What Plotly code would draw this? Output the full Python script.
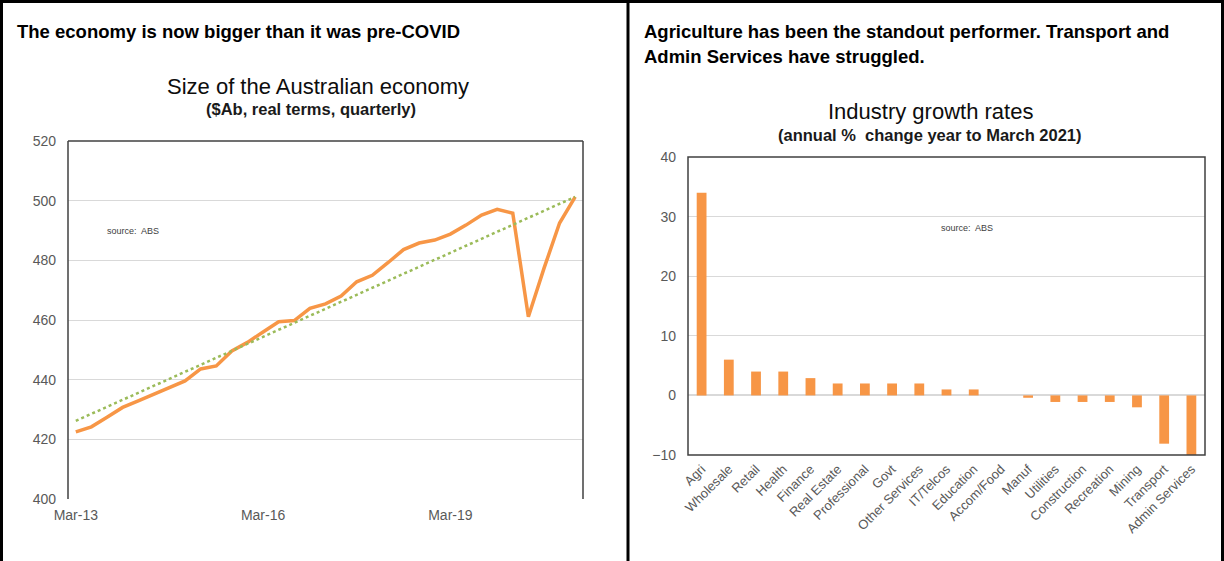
import plotly.graph_objects as go

W, H = 1224, 561

# ---------------- data ----------------
months = ["Mar", "Jun", "Sep", "Dec"]
quarters = [f"{m}-{y:02d}" for y in range(13, 22) for m in months][:33]
gdp = [422.5, 424.2, 427.4, 430.7, 432.9, 435.2, 437.4, 439.6, 443.6, 444.6,
       449.6, 452.5, 456.0, 459.4, 459.8, 463.9, 465.4, 468.0, 472.8, 475.0,
       479.2, 483.6, 485.8, 486.8, 488.8, 491.8, 495.2, 497.1, 495.8, 461.1,
       477.3, 492.5, 501.3]
trend_ends = [426.2, 501.3]
left_ticks = ["Mar-13", "Mar-16", "Mar-19"]

industries = ["Agri", "Wholesale", "Retail", "Health", "Finance", "Real Estate",
              "Professional", "Govt", "Other Services", "IT/Telcos", "Education",
              "Accom/Food", "Manuf", "Utilities", "Construction", "Recreation",
              "Mining", "Transport", "Admin Services"]
growth = [34, 6, 4, 4, 2.9, 2, 2, 2, 2, 1, 1, 0, -0.4, -1.1, -1.1, -1.1, -2, -8.1, -10]

ORANGE = "#F79646"
GREEN = "#9BBB59"
GRID = "#D9D9D9"
TICK = "#595959"
FRAME = "#404040"
FONT = "Liberation Sans, Arial, sans-serif"

def px(x):
    return x / W

def py(y):
    return 1 - y / H

fig = go.Figure()

fig.add_trace(go.Scatter(x=quarters, y=gdp, mode="lines",
                         line=dict(color=ORANGE, width=3.5),
                         xaxis="x", yaxis="y", showlegend=False))
fig.add_trace(go.Scatter(x=[quarters[0], quarters[-1]], y=trend_ends, mode="lines",
                         line=dict(color=GREEN, width=2.5, dash="dot"),
                         xaxis="x", yaxis="y", showlegend=False))
fig.add_trace(go.Bar(x=industries, y=growth, marker=dict(color=ORANGE, line=dict(width=0)),
                     width=0.36, xaxis="x2", yaxis="y2", showlegend=False))

tickfont = dict(family=FONT, size=14, color=TICK)

fig.update_layout(
    template="none",
    width=W, height=H, autosize=False,
    margin=dict(l=0, r=0, t=0, b=0, pad=0),
    paper_bgcolor="white", plot_bgcolor="white",
    font=dict(family=FONT),
    xaxis=dict(domain=[px(68), px(583)], type="category", categoryorder="array",
               categoryarray=quarters, range=[-0.5, 32.5], automargin=False,
               tickmode="array", tickvals=left_ticks, ticktext=left_ticks,
               showgrid=False, showline=False, zeroline=False, ticks="",
               tickfont=tickfont, ticklabelstandoff=6, anchor="y"),
    yaxis=dict(domain=[py(499), py(141)], range=[400, 520], dtick=20, tick0=400,
               automargin=False,
               showgrid=True, gridcolor=GRID, gridwidth=1, zeroline=False,
               showline=False, ticks="", tickfont=tickfont, ticklabelstandoff=11,
               anchor="x"),
    xaxis2=dict(domain=[px(688), px(1205)], type="category", range=[-0.5, 18.5],
                automargin=False,
                showgrid=False, showline=False, zeroline=False, ticks="",
                tickangle=-45, tickfont=dict(family=FONT, size=13, color=TICK),
                ticklabelstandoff=3, anchor="y2"),
    yaxis2=dict(domain=[py(455), py(157)], range=[-10, 40], dtick=10,
                automargin=False,
                showgrid=True, gridcolor=GRID, gridwidth=1, zeroline=True,
                zerolinecolor=GRID, zerolinewidth=1.5, showline=False, ticks="",
                tickfont=tickfont, ticklabelstandoff=11, anchor="x2"),
    bargap=0.6,
)

shapes = []
# left plot frame (left, top, right)
for (x0, y0, x1, y1) in [(0, 0, 0, 1), (0, 1, 1, 1), (1, 0, 1, 1)]:
    shapes.append(dict(type="line", xref="x domain", yref="y domain",
                       x0=x0, y0=y0, x1=x1, y1=y1, line=dict(color=FRAME, width=1.5)))
# right plot frame
shapes.append(dict(type="rect", xref="x2 domain", yref="y2 domain", x0=0, y0=0, x1=1, y1=1,
                   line=dict(color=FRAME, width=1.5), layer="above"))
# panel borders
for (x0, y0, x1, y1) in [(px(1.5), 0, px(1.5), 1), (0, py(1.5), 1, py(1.5)),
                         (px(628), 0, px(628), 1), (px(1222.5), 0, px(1222.5), 1)]:
    shapes.append(dict(type="line", xref="paper", yref="paper",
                       x0=x0, y0=y0, x1=x1, y1=y1, line=dict(color="black", width=3)))
fig.update_layout(shapes=shapes)

def ann(text, x, y, size, bold=False, xanchor="left", color="black"):
    t = f"<b>{text}</b>" if bold else text
    return dict(text=t, x=px(x), y=py(y), xref="paper", yref="paper",
                xanchor=xanchor, yanchor="middle", showarrow=False,
                font=dict(family=FONT, size=size, color=color))

annotations = [
    ann("The economy is now bigger than it was pre-COVID", 15, 31, 18.5, bold=True),
    ann("Agriculture has been the standout performer. Transport and", 642, 31, 18.5, bold=True),
    ann("Admin Services have struggled.", 642, 56, 18.5, bold=True),
    ann("Size of the Australian economy", 318, 87, 22, xanchor="center", color="#0d0d0d"),
    ann("($Ab, real terms, quarterly)", 311, 109, 16.5, bold=True, xanchor="center", color="#1a1a1a"),
    ann("Industry growth rates", 930, 111, 22, xanchor="center", color="#0d0d0d"),
    ann("(annual %  change year to March 2021)", 930, 135, 16.5, bold=True, xanchor="center", color="#1a1a1a"),
    ann("source:  ABS", 105, 231, 9, color="#404040"),
    ann("source:  ABS", 939, 228, 9, color="#404040"),
]
fig.update_layout(annotations=annotations)

fig.write_html("out.html")
